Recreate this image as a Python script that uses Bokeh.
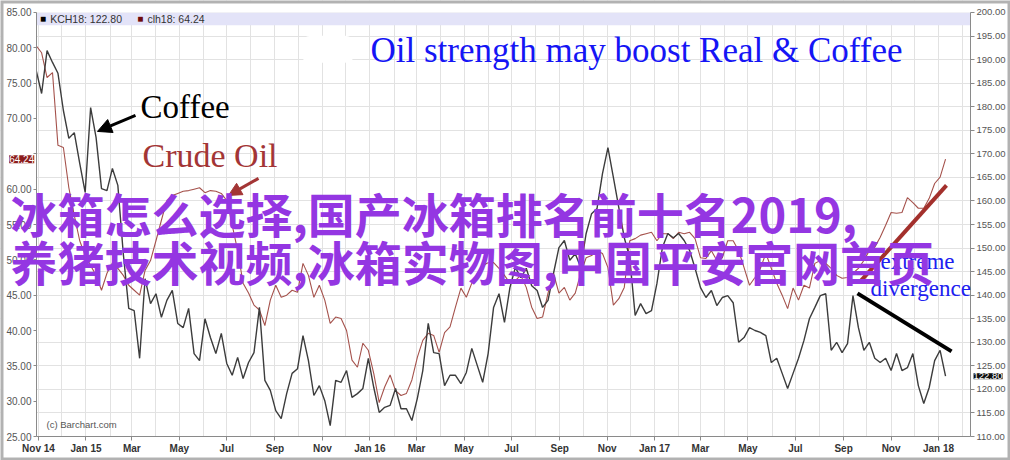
import pandas as pd
from bokeh.plotting import figure
from bokeh.models import (Range1d, LinearAxis, FixedTicker, NumeralTickFormatter, Grid,
                          Label, Arrow, NormalHead, BoxAnnotation)
from bokeh.embed import file_html
from bokeh.resources import INLINE

# Weekly closes, March 2018 contracts
first_week = "2014-10-29"
coffee_kch18 = [
    187.7, 182.8, 191.9, 189.4, 187.1, 179.2, 173.3, 174.5, 168.0, 161.8,
    179.8, 173.5, 162.6, 162.2, 166.9, 163.3, 148.8, 137.2, 136.7, 126.6,
    143.5, 138.2, 140.3, 135.3, 138.9, 141.0, 134.0, 133.1, 137.2, 127.6,
    126.1, 135.0, 131.0, 127.6, 131.9, 125.5, 123.0, 126.8, 122.3, 125.7,
    127.8, 137.4, 121.9, 119.8, 115.5,
    113.8, 119.1, 123.4, 124.4, 131.4, 126.1, 118.7, 120.8, 117.6, 112.3,
    121.9, 121.5, 124.0, 118.3, 119.1, 120.2, 126.6, 120.4, 115.1, 116.2,
    116.6, 120.2, 115.9, 115.9, 113.4, 118.1, 124.0, 134.0, 127.8, 127.6,
    120.8, 123.0, 123.0, 121.2, 123.6, 128.7, 125.1, 121.5, 127.6, 137.4,
    140.3, 134.2,
    141.6, 145.9, 143.7, 145.7, 142.0, 141.0, 137.4, 138.9, 144.6, 150.1,
    151.6, 147.4, 148.8, 145.9, 153.1, 157.3, 158.4, 165.8, 171.3, 165.0,
    158.6, 152.2, 148.0, 135.7, 138.2, 136.1, 136.7, 142.5, 150.1, 153.1,
    152.2, 153.1, 151.6, 149.5, 145.7, 141.6, 139.5, 141.0, 137.8, 139.5,
    139.9, 138.4,
    130.0, 131.0, 133.1, 132.5, 132.1, 131.4, 125.7, 126.6, 123.4, 120.2,
    123.4, 126.6, 130.4, 135.0, 137.4, 139.9, 140.3, 128.3, 130.0, 127.8,
    129.7, 139.9, 133.1, 128.3, 130.0, 126.6, 125.7, 126.6, 124.0, 127.6,
    124.0, 124.6, 127.6, 120.8, 117.0, 120.4, 126.1, 128.3, 122.8,
]
crude_clh18 = [
    80.3, 79.3, 75.8, 76.5, 66.2, 65.9, 60.2, 56.3, 52.7, 50.6,
    49.2, 47.8, 45.7, 48.1, 49.6, 48.8, 47.8, 46.4, 45.7, 45.0,
    48.5, 49.9, 52.7, 55.6, 58.4, 59.1, 59.4, 59.7, 59.8, 60.0,
    60.2, 59.5, 59.8, 59.7, 59.4, 58.4, 54.9, 51.3, 46.7, 45.3,
    43.6, 42.9, 40.7, 44.3, 46.4, 44.7, 45.0, 45.7, 45.4, 49.5,
    47.8, 44.7, 46.4, 44.3, 41.0, 41.9, 41.7, 40.0, 35.8, 34.8,
    38.2, 37.2, 33.9, 29.8, 32.0, 33.7, 31.5, 30.8, 31.1, 33.0,
    36.2, 38.6, 39.6, 39.3, 36.9, 39.7, 40.5, 43.3, 46.0, 44.7,
    46.7, 48.1, 49.2, 49.6, 49.6, 48.8, 47.8, 46.7, 47.1, 47.8,
    46.1, 43.3, 41.7, 41.9, 45.3, 48.1, 45.3, 46.1, 44.3, 45.3,
    48.1, 50.3, 50.6, 51.3, 50.9, 48.9, 43.6, 44.5, 46.1, 52.7,
    53.0, 53.5, 53.7, 53.9, 52.7, 53.7, 53.7, 53.0, 53.9, 53.7,
    53.9, 53.0, 50.3, 50.2, 51.3, 49.9, 50.3, 52.7, 52.7, 51.3,
    48.9, 46.4, 47.5, 48.8, 50.9, 48.8, 46.7, 45.0, 43.1, 46.0,
    44.3, 46.4, 46.0, 49.5, 49.9, 49.5, 48.8, 47.8, 47.4, 47.5,
    48.1, 48.8, 49.9, 51.3, 51.8, 53.2, 54.9, 56.7, 56.6, 56.7,
    58.8, 58.1, 57.3, 57.3, 58.7, 60.8, 61.7, 64.24,
]
tick_labels = ["Nov 14", "Jan 15", "Mar", "May", "Jul", "Sep", "Nov",
               "Jan 16", "Mar", "May", "Jul", "Sep", "Nov",
               "Jan 17", "Mar", "May", "Jul", "Sep", "Nov", "Jan 18"]
oil_ticks = list(range(25, 86, 5))
coffee_ticks = list(range(110, 201, 5))

weeks = pd.date_range(first_week, periods=len(coffee_kch18), freq="7D")
ORIGIN = pd.Timestamp("2014-11-01")


def day(n):
    """Time axis position n days after 1 Nov 2014 (ms)."""
    return (ORIGIN + pd.Timedelta(days=n)).value / 1e6


tick_ms = [d.value / 1e6 for d in pd.date_range("2014-11-01", "2018-01-01", freq="2MS")]
month_ms = [d.value / 1e6 for d in pd.date_range("2014-11-01", "2018-02-01", freq="MS")]

# plotting area edges (time) and the oil price span
T_LEFT, T_RIGHT = day(-2.57), day(1198.1)
OIL_LO, OIL_HI = 25, 85

# the frame fills the whole canvas; axes sit at fixed positions inside it
p = figure(width=1010, height=460, x_axis_type="datetime",
           x_range=Range1d(day(-48.85), day(1249.5)), y_range=Range1d(21.604, 86.698),
           output_backend="svg", toolbar_location=None,
           min_border=0, min_border_left=0, min_border_right=0,
           min_border_top=0, min_border_bottom=0,
           background_fill_color="white", border_fill_color="white",
           outline_line_color=None)
p.extra_y_ranges = {"coffee": Range1d(104.906, 202.547)}

SANS = "Liberation Sans"
SERIF = "Liberation Serif"

# grid: monthly verticals, horizontals on the coffee scale
p.xgrid.ticker = FixedTicker(ticks=month_ms)
p.xgrid.grid_line_color = "#e2e2e2"
p.ygrid.visible = False
p.add_layout(Grid(dimension=1, ticker=FixedTicker(ticks=coffee_ticks), y_range_name="coffee",
                  grid_line_color="#e2e2e2"))

# header band holding the series readout
p.add_layout(BoxAnnotation(left=T_LEFT, right=T_RIGHT, top=OIL_HI, bottom=83.2,
                           fill_color="#e3e3f8", fill_alpha=1, line_color=None, level="underlay"))

# blank margins around the plotting area
for edges in (dict(right=T_LEFT), dict(left=T_RIGHT), dict(top=OIL_LO), dict(bottom=OIL_HI)):
    p.add_layout(BoxAnnotation(**edges, fill_color="white", fill_alpha=1,
                               line_color=None, level="glyph"))

# time axis
xa = p.xaxis[0]
xa.fixed_location = OIL_LO
xa.bounds = (T_LEFT, T_RIGHT)
xa.ticker = FixedTicker(ticks=tick_ms)
xa.major_label_overrides = {t: lab for t, lab in zip(tick_ms, tick_labels)}
xa.major_label_text_font = SANS
xa.major_label_text_font_size = "10px"
xa.major_label_text_font_style = "bold"
xa.major_label_text_color = "#333333"
xa.major_label_standoff = 2
xa.major_tick_out = 4
xa.major_tick_in = 0
xa.minor_tick_out = 0
xa.minor_tick_in = 0
xa.axis_line_color = "#8a8a8a"
xa.major_tick_line_color = "#8a8a8a"

# left axis: crude oil; right axis: coffee
ya = p.yaxis[0]
ya.fixed_location = T_LEFT
ya.bounds = (OIL_LO, OIL_HI)
ya.ticker = FixedTicker(ticks=oil_ticks)
ya.major_label_overrides = {65: ""}   # hidden behind the last-price flag
ra = LinearAxis(y_range_name="coffee", ticker=FixedTicker(ticks=coffee_ticks),
                fixed_location=T_RIGHT, bounds=(110, 200))
p.add_layout(ra, "right")
for ax, size, tick_out in ((ya, "10px", 3), (ra, "9.5px", 4)):
    ax.formatter = NumeralTickFormatter(format="0.00")
    ax.major_label_text_font = SANS
    ax.major_label_text_font_size = size
    ax.major_label_text_color = "#555555"
    ax.major_label_standoff = 2
    ax.major_tick_out = tick_out
    ax.major_tick_in = 0
    ax.minor_tick_out = 0
    ax.minor_tick_in = 0
    ax.axis_line_color = "#8a8a8a"
    ax.major_tick_line_color = "#8a8a8a"

# series
p.line(weeks, crude_clh18, line_color="#a5524c", line_width=1.1)
p.line(weeks, coffee_kch18, y_range_name="coffee", line_color="#3c3c3c", line_width=1.4)

# readout in the header band
p.add_layout(Label(x=day(2), y=84.15, text="■", text_color="black", text_font=SANS,
                   text_font_size="10px", text_baseline="middle"))
p.add_layout(Label(x=day(15), y=84.15, text=f"KCH18: {coffee_kch18[-1]:.2f}", text_color="#333333",
                   text_font=SANS, text_font_size="10.5px", text_baseline="middle"))
p.add_layout(Label(x=day(127), y=84.15, text="■", text_color="#6e0b0b", text_font=SANS,
                   text_font_size="10px", text_baseline="middle"))
p.add_layout(Label(x=day(140), y=84.15, text=f"clh18: {crude_clh18[-1]:.2f}", text_color="#333333",
                   text_font=SANS, text_font_size="10.5px", text_baseline="middle"))

# last-value flags on both axes, drawn over the tick labels
p.add_layout(Label(x=day(-5.5), y=crude_clh18[-1], text=f"{crude_clh18[-1]:.2f}",
                   text_color="white", text_font=SANS, text_font_size="10px", level="overlay",
                   text_align="right", text_baseline="middle", background_fill_color="#8b1c1c"))
p.add_layout(Label(x=day(1202), y=coffee_kch18[-1], y_range_name="coffee", level="overlay",
                   text=f"{coffee_kch18[-1]:.2f}", text_color="white", text_font=SANS,
                   text_font_size="9.5px", text_baseline="middle", background_fill_color="#111111"))

p.add_layout(Label(x=day(10.3), y=26.73, text="(c) Barchart.com", text_color="#555555",
                   text_font=SANS, text_font_size="9.5px", text_baseline="middle"))

# white patch beside the headline
p.add_layout(BoxAnnotation(left=day(337), right=day(407), top=81.7, bottom=77.9,
                           fill_color="white", fill_alpha=1, line_color=None, border_radius=10))

# commentary
p.add_layout(Label(x=day(426.8), y=79.63, text="Oil strength may boost Real & Coffee",
                   text_color="#1515f5", text_font=SERIF, text_font_size="35px",
                   text_baseline="middle"))
p.add_layout(Label(x=day(131.1), y=71.56, text="Coffee", text_color="black",
                   text_font=SERIF, text_font_size="33px", text_baseline="middle"))
p.add_layout(Arrow(x_start=day(124.7), y_start=70.43, x_end=day(75.8), y_end=68.17,
                   line_color="black", line_width=3,
                   end=NormalHead(size=14, fill_color="black", line_color="black")))
p.add_layout(Label(x=day(133.7), y=64.77, text="Crude Oil", text_color="#a33535",
                   text_font=SERIF, text_font_size="34px", text_baseline="middle"))
p.add_layout(Arrow(x_start=day(282.8), y_start=61.52, x_end=day(244.2), y_end=59.12,
                   line_color="#a33535", line_width=3,
                   end=NormalHead(size=13, fill_color="#a33535", line_color="#a33535")))

# divergence trend lines
p.segment(x0=[day(1055.4)], y0=[46.81], x1=[day(1167.2)], y1=[60.53],
          line_color="#a3302c", line_width=4)
p.segment(x0=[day(1052.8)], y0=[45.26], x1=[day(1173.7)], y1=[37.05],
          line_color="black", line_width=4)
p.add_layout(Label(x=day(1130), y=49.78, text="extreme", text_color="#2020f0",
                   text_font=SERIF, text_font_size="23px", text_align="center",
                   text_baseline="middle"))
p.add_layout(Label(x=day(1134), y=45.96, text="divergence", text_color="#2020f0",
                   text_font=SERIF, text_font_size="23px", text_align="center",
                   text_baseline="middle"))

# overlaid caption
CJK = "Noto Sans CJK SC"
p.add_layout(Label(x=day(-36), y=56.71, text="冰箱怎么选择,国产冰箱排名前十名2019,",
                   text_color="#9436e2", text_font=CJK, text_font_style="bold",
                   text_font_size="47px", text_baseline="middle"))
p.add_layout(Label(x=day(-36), y=49.92, text="养猪技术视频,冰箱实物图,中国平安官网首页",
                   text_color="#9436e2", text_font=CJK, text_font_style="bold",
                   text_font_size="47px", text_baseline="middle"))

# black outer frame
p.add_layout(BoxAnnotation(fill_alpha=0, line_color="black", line_width=6, level="overlay"))

open("out.html", "w").write(file_html(p, INLINE))
